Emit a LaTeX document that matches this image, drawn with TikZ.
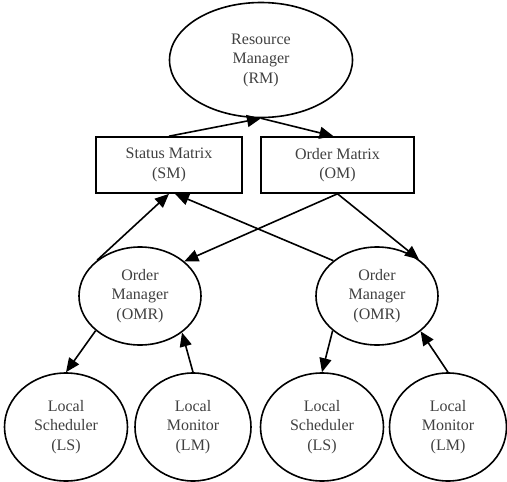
\documentclass[tikz,border=0pt]{standalone}
\usepackage{fontspec}
\setmainfont{Liberation Serif}
\usetikzlibrary{shapes.geometric,arrows.meta}
\begin{document}
\begin{tikzpicture}[x=1pt,y=-1pt,
  every node/.style={font=\fontsize{16}{19.5}\selectfont, text=black!75, align=center, inner sep=0pt},
  ell/.style={ellipse, draw=black, line width=1.6pt},
  box/.style={rectangle, draw=black, line width=1.6pt, minimum width=146pt, minimum height=56pt},
  conn/.style={line width=1.6pt, -{Triangle[length=14pt,width=12pt]}}]
\useasboundingbox (0,0) rectangle (507,482);
\node[ell, minimum width=183pt, minimum height=115pt] (rm) at (261,60) {Resource\\Manager\\(RM)};
\node[box] (sm) at (169,165) {Status Matrix\\(SM)};
\node[box, minimum width=153pt] (om) at (337.5,165) {Order Matrix\\(OM)};
\node[ell, minimum width=122pt, minimum height=98pt] (omr1) at (140,296) {Order\\Manager\\(OMR)};
\node[ell, minimum width=122pt, minimum height=98pt] (omr2) at (377,296) {Order\\Manager\\(OMR)};
\node[ell, minimum width=123pt, minimum height=108pt] (ls1) at (66,427) {Local\\Scheduler\\(LS)};
\node[ell, minimum width=116pt, minimum height=108pt] (lm1) at (193,427) {Local\\Monitor\\(LM)};
\node[ell, minimum width=123pt, minimum height=108pt] (ls2) at (322,427) {Local\\Scheduler\\(LS)};
\node[ell, minimum width=117pt, minimum height=108pt] (lm2) at (448,427) {Local\\Monitor\\(LM)};
\draw[conn] (sm.north) -- (rm.south);
\draw[conn] (rm.south) -- ([xshift=-4pt]om.north);
\draw[conn] (omr1.140) -- (sm.south);
\draw[conn] (omr2.141) -- ([xshift=6pt]sm.south);
\draw[conn] (om.south) -- (omr1.38);
\draw[conn] (om.south) -- (omr2.41);
\draw[conn] (omr1.218) -- (ls1.north);
\draw[conn] (lm1.north) -- (omr1.319);
\draw[conn] (omr2.218) -- (ls2.north);
\draw[conn] (lm2.north) -- (omr2.321);
\end{tikzpicture}
\end{document}
